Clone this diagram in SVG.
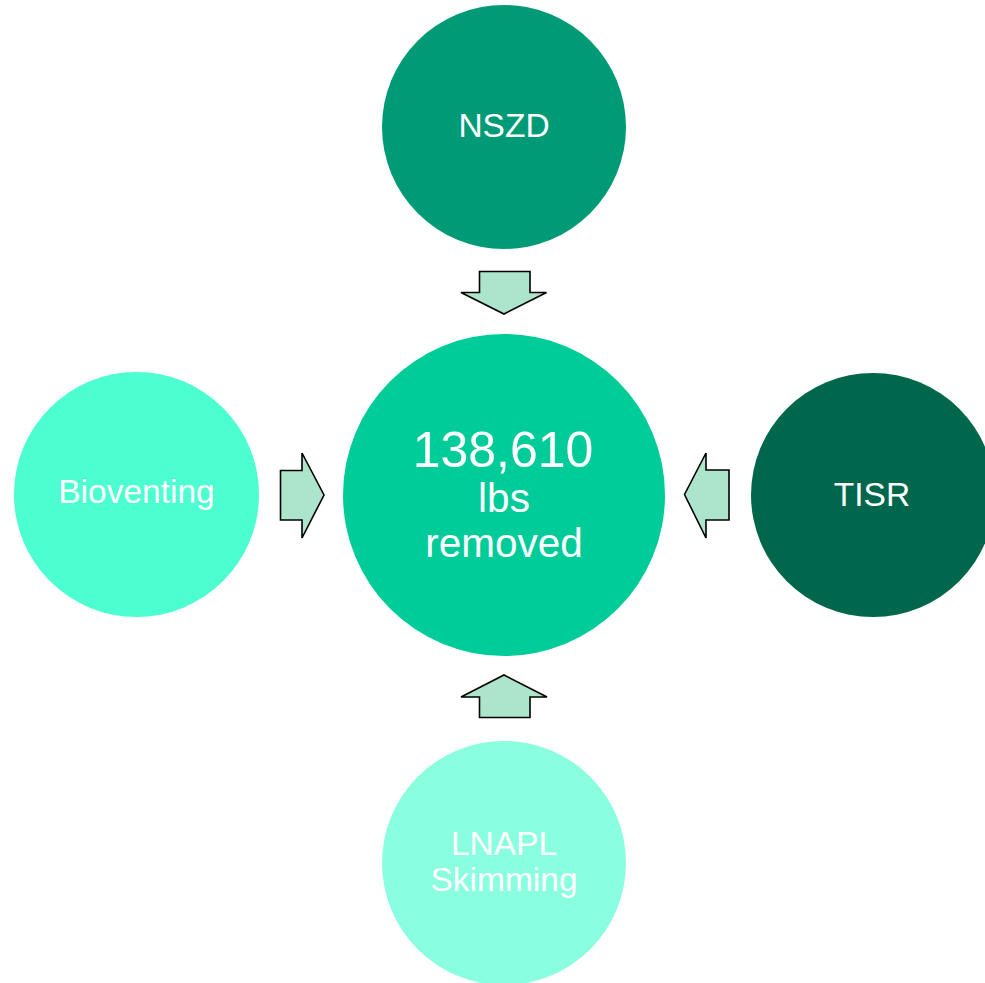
<svg xmlns="http://www.w3.org/2000/svg" width="985" height="983" viewBox="0 0 985 983">
<style>
.lbl{font-family:"Liberation Sans",Arial,sans-serif;fill:#ffffff;text-anchor:middle}
.arr{fill:#ADE5CC;stroke:#000000;stroke-width:1.6;stroke-linejoin:miter}
</style>
<rect width="985" height="983" fill="#ffffff"/>
<g id="connectors">
<polygon class="arr" points="479.5,271.5 530,271.5 530,292.5 546.5,292.5 504,314 461,292.5 479.5,292.5"/>
<polygon class="arr" points="280.5,470.5 302,470.5 302,453 324,495 302,538 302,520 280.5,520"/>
<polygon class="arr" points="729,470 706,470 706,453 684.5,494.5 706,538 706,520 729,520"/>
<polygon class="arr" points="479.5,717.5 530,717.5 530,697 547,697 504,675 461,697 479.5,697"/>
</g>
<g id="nszd">
<circle cx="504" cy="127" r="122" fill="#009B76"/>
<text class="lbl" x="504" y="137" font-size="33.5">NSZD</text>
</g>
<g id="center">
<circle cx="504" cy="495" r="161" fill="#00CC99"/>
<text class="lbl" x="503" y="467" font-size="50">138,610</text>
<text class="lbl" x="504" y="512" font-size="40.5">lbs</text>
<text class="lbl" x="504" y="557" font-size="40.5">removed</text>
</g>
<g id="bioventing">
<circle cx="136.5" cy="494.5" r="122.5" fill="#4BFFD1"/>
<text class="lbl" x="136.5" y="502.5" font-size="33.5">Bioventing</text>
</g>
<g id="tisr">
<circle cx="873" cy="495" r="122" fill="#00674C"/>
<text class="lbl" x="872" y="506" font-size="33.5">TISR</text>
</g>
<g id="lnapl">
<circle cx="504" cy="863" r="122" fill="#8AFFE0"/>
<text class="lbl" x="504" y="855" font-size="33.5">LNAPL</text>
<text class="lbl" x="504" y="891" font-size="33.5">Skimming</text>
</g>
</svg>
